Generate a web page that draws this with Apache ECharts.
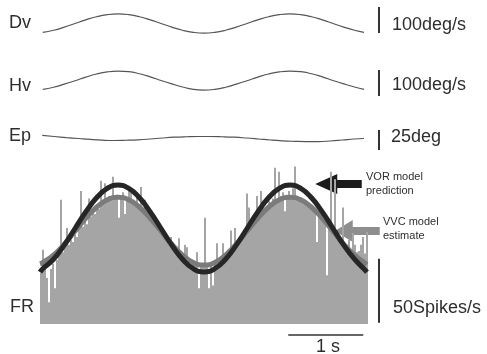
<!DOCTYPE html>
<html>
<head>
<meta charset="utf-8">
<script src="https://cdn.jsdelivr.net/npm/echarts@6/dist/echarts.min.js"></script>
<style>
  html, body { margin: 0; padding: 0; background: #fff; }
  #chart { width: 487px; height: 354px; }
</style>
</head>
<body>
<div id="chart"></div>
<script>
// ---- recorded traces (time in s), sampled at 1/16 of a stimulus cycle ----
var traceTime = [0.037,0.180,0.324,0.467,0.610,0.754,0.897,1.040,1.184,1.327,1.470,1.614,1.757,
                 1.900,2.044,2.187,2.330,2.474,2.617,2.760,2.904,3.047,3.190,3.334,3.477,3.620,
                 3.764,3.907,4.050,4.194,4.320];
// Dv: desired velocity (deg/s)
var dv = [-34,-26,-14,0,14,26,34,37,34,26,14,0,-14,-26,-34,-37,-34,-26,-14,0,14,26,34,37,34,26,14,0,-14,-26,-34];
// Hv: head velocity (deg/s)
var hv = [-34,-26,-14,-1,13,25,33,36,34,26,14,0,-13,-25,-34,-37,-34,-26,-14,-1,13,25,33,36,34,26,14,0,-13,-25,-34];

var epTime = [0.03,0.19,0.35,0.51,0.67,0.83,0.99,1.15,1.31,1.47,1.63,1.79,1.95,2.11,
              2.27,2.43,2.59,2.75,2.91,3.07,3.23,3.39,3.55,3.71,3.87,4.03,4.19,4.32];
// Ep: eye position (deg)
var ep = [3.8,2.5,1.2,0,-1.2,-2.1,-2.5,-2.2,-1.6,-0.6,0.6,1.6,2.2,2.5,2.5,2.2,1.6,0.6,-0.6,-1.9,-2.9,-3.5,-3.8,-3.8,-3.1,-1.9,-0.6,0];

// ---- firing rate histogram (spikes/s), one value per bin ----
var binWidth = 2 / 75;   // s
var firingRate = [
  40,58,44,36,17,43,47,28,50,55, 97,56,60,75,62,66,64,70,68,74,
  104,76,80,78,98,84,87,86,92,90, 112,95,110,97,100,98,115,99,101,83,
  100,103,86,99,104,103,96,92,103,93, 107,88,97,86,83,81,79,77,75,72,
  71,68,67,64,62,68,59,56,55,67, 52,51,62,60,48,47,47,48,56,28,
  47,46,83,46,28,47,30,48,63,48, 49,63,52,54,56,73,58,75,62,64,
  66,68,70,102,91,76,78,80,100,90, 104,95,89,92,96,94,98,122,97,119,
  100,103,88,101,104,99,106,123,100,97, 99,96,97,94,93,91,92,89,64,85,
  84,82,80,38,77,119,72,113,68,66, 64,91,62,60,66,58,71,62,56,57,
  62,68,55,72
];

// ---- model curves (spikes/s) ----
var fitTime = [0,0.037,0.180,0.324,0.467,0.610,0.754,0.897,1.040,1.184,1.327,1.470,1.614,1.757,
               1.900,2.044,2.187,2.330,2.474,2.617,2.760,2.904,3.047,3.190,3.334,3.477,3.620,
               3.764,3.907,4.050,4.194,4.337,4.36];
var vorPrediction = [40.5,43.2,50.6,61.6,74.6,87.6,98.6,106,108.6,106,98.6,87.6,74.6,61.6,50.6,43.2,40.6,
                     43.2,50.6,61.6,74.6,87.6,98.6,106,108.6,106,98.6,87.6,74.6,61.6,50.6,42,40.5];
var vvcEstimate = [47,48,53.8,62.4,72.5,82.6,91.2,97,99,97,91.2,82.6,72.5,62.4,53.8,48,46,
                   48,53.8,62.4,72.5,82.6,91.2,97,99,97,91.2,82.6,72.5,62.4,53.8,47.5,46.5];

// ---- scale bars ----
var scaleBarTime = 4.52;
var dvScale = [-37, 63];      // 100 deg/s
var hvScale = [-60, 40];      // 100 deg/s
var epScale = [-14.4, 10.6];  // 25 deg
var frScale = [1, 51];        // 50 spikes/s
var timeScale = [3.31, 4.31]; // 1 s
var timeScaleLevel = -8.6;

// ---- annotation arrows: [tail time, tip time, level] ----
var vorArrow = [[4.29, 3.67, 109.4]];
var vvcArrow = [[4.53, 3.93, 72.7]];

var FONT = '"Liberation Sans", Arial, sans-serif';
var TEXT = '#2e2e2e';
var TRACE = '#555555';

function pairs(xs, ys) { return ys.map(function (y, i) { return [xs[i], y]; }); }

var histData = firingRate.map(function (v, i) { return [(i + 0.5) * binWidth, v]; });

function grid(top, height) { return { left: 40, right: 0, top: top, height: height, containLabel: false }; }
function xAx(i) { return { type: 'value', gridIndex: i, min: 0, max: 447 / 75, show: false }; }
function yAx(i, min, max) { return { type: 'value', gridIndex: i, min: min, max: max, show: false }; }

function traceSeries(idx, data) {
  return { type: 'line', xAxisIndex: idx, yAxisIndex: idx, data: data, showSymbol: false,
           smooth: true, lineStyle: { color: TRACE, width: 1.2 }, silent: true };
}
function barSeries(idx, a, b) {
  return { type: 'line', xAxisIndex: idx, yAxisIndex: idx, showSymbol: false, silent: true,
           data: [[scaleBarTime, a], [scaleBarTime, b]], lineStyle: { color: '#333', width: 2 } };
}
function arrowSeries(data, color, headLen, headHalf, shaftHalf) {
  return {
    type: 'custom', xAxisIndex: 3, yAxisIndex: 3, data: data, silent: true, clip: false,
    renderItem: function (params, api) {
      var tail = api.coord([api.value(0), api.value(2)]);
      var tip = api.coord([api.value(1), api.value(2)]);
      var y = tip[1], bx = tip[0] + headLen;
      return {
        type: 'polygon',
        shape: { points: [
          [tip[0], y], [bx, y - headHalf], [bx, y - shaftHalf], [tail[0], y - shaftHalf],
          [tail[0], y + shaftHalf], [bx, y + shaftHalf], [bx, y + headHalf]
        ] },
        style: { fill: color }
      };
    }
  };
}
function label(text, x, y, size) {
  return { type: 'text', x: x, y: y, silent: true,
           style: { text: text, fill: TEXT, font: size + 'px ' + FONT, verticalAlign: 'middle' } };
}

var chart = echarts.init(document.getElementById('chart'), null, { renderer: 'canvas' });
chart.setOption({
  animation: false,
  backgroundColor: '#ffffff',
  grid: [grid(7.9, 31.2), grid(64.9, 31.2), grid(122.5, 32), grid(164, 185.6)],
  xAxis: [xAx(0), xAx(1), xAx(2), xAx(3)],
  yAxis: [yAx(0, -60, 60), yAx(1, -60, 60), yAx(2, -20, 20), yAx(3, -20, 125)],
  series: [
    traceSeries(0, pairs(traceTime, dv)),
    traceSeries(1, pairs(traceTime, hv)),
    traceSeries(2, pairs(epTime, ep)),
    { type: 'bar', xAxisIndex: 3, yAxisIndex: 3, data: histData, barWidth: 2,
      itemStyle: { color: '#a5a5a5' }, silent: true },
    { type: 'line', xAxisIndex: 3, yAxisIndex: 3, data: pairs(fitTime, vvcEstimate), showSymbol: false,
      smooth: true, lineStyle: { color: '#7b7b7b', width: 5 }, silent: true, z: 3 },
    { type: 'line', xAxisIndex: 3, yAxisIndex: 3, data: pairs(fitTime, vorPrediction), showSymbol: false,
      smooth: true, lineStyle: { color: '#262626', width: 5 }, silent: true, z: 4 },
    barSeries(0, dvScale[0], dvScale[1]),
    barSeries(1, hvScale[0], hvScale[1]),
    barSeries(2, epScale[0], epScale[1]),
    barSeries(3, frScale[0], frScale[1]),
    { type: 'line', xAxisIndex: 3, yAxisIndex: 3, showSymbol: false, silent: true,
      data: [[timeScale[0], timeScaleLevel], [timeScale[1], timeScaleLevel]],
      lineStyle: { color: '#333', width: 1.5 } },
    arrowSeries(vorArrow, '#1c1c1c', 22, 10, 4),
    arrowSeries(vvcArrow, '#8e8e8e', 18, 11, 4)
  ],
  graphic: [
    label('Dv', 9, 23.5, 18),
    label('Hv', 9, 86, 18),
    label('Ep', 9, 136.5, 18),
    label('FR', 10, 307.5, 18),
    label('100deg/s', 392, 25, 18),
    label('100deg/s', 392, 85.5, 18),
    label('25deg', 391, 137.5, 18),
    label('50Spikes/s', 393, 308, 18),
    label('1 s', 316, 347, 18),
    label('VOR model', 366, 177, 11),
    label('prediction', 366, 191, 11),
    label('VVC model', 383, 222, 11),
    label('estimate', 383, 236, 11)
  ]
});
</script>
</body>
</html>
